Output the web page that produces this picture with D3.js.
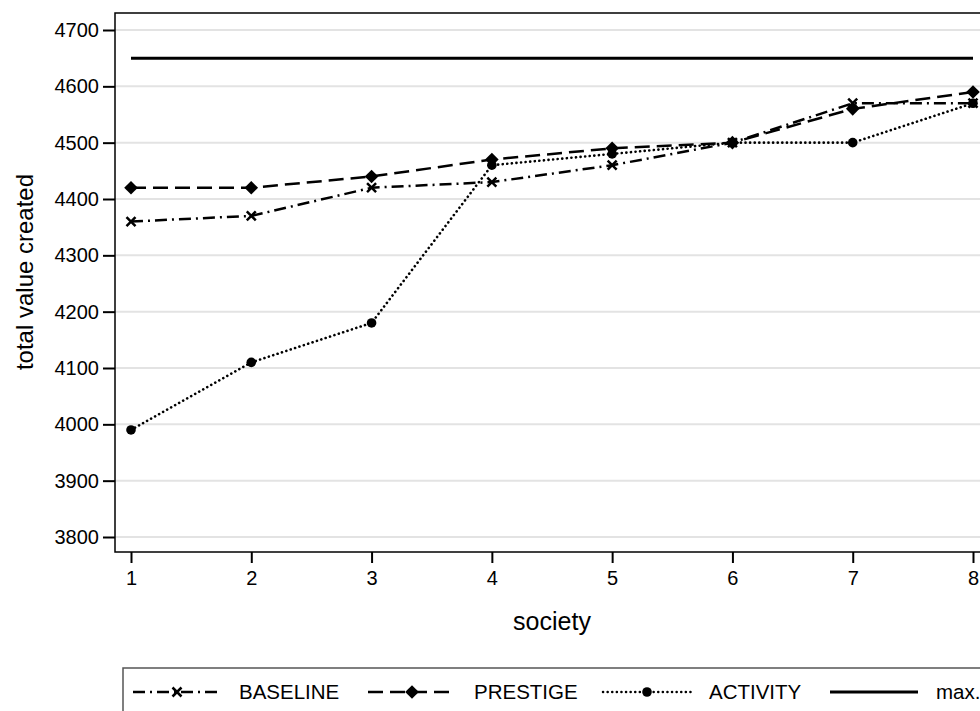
<!DOCTYPE html>
<html><head><meta charset="utf-8">
<script src="https://cdn.jsdelivr.net/npm/d3@7"></script>
<style>body{margin:0;background:#fff}svg{display:block}text{font-family:"Liberation Sans",Arial,Helvetica,sans-serif}</style>
</head><body>
<script>
const societies = [1,2,3,4,5,6,7,8];
const baseline = [4360,4370,4420,4430,4460,4500,4570,4570];
const prestige = [4420,4420,4440,4470,4490,4500,4560,4590];
const activity = [3990,4110,4180,4460,4480,4500,4500,4570];
const maxValue = 4650;
const yTicks = [3800,3900,4000,4100,4200,4300,4400,4500,4600,4700];
const xTicks = [1,2,3,4,5,6,7,8];
const seriesNames = ["BASELINE","PRESTIGE","ACTIVITY","max."];

const W=980,H=711;
const svg=d3.select("body").append("svg").attr("width",W).attr("height",H);
const L=115, T=13, B=552, R=995;
const x=d3.scaleLinear().domain([1,8]).range([131,973]);
const y=d3.scaleLinear().domain([3800,4700]).range([537,30]);

// grid
svg.append("g").selectAll("line").data(yTicks).join("line")
 .attr("x1",L).attr("x2",R).attr("y1",d=>y(d)).attr("y2",d=>y(d))
 .attr("stroke","#e3e3e3").attr("stroke-width",2);

// axes
const ya=svg.append("g").attr("transform",`translate(${L},0)`)
 .call(d3.axisLeft(y).tickValues(yTicks).tickSize(12).tickPadding(4).tickFormat(d3.format("d")));
ya.select(".domain").remove();
ya.selectAll("line").attr("stroke","#000").attr("stroke-width",2);
ya.selectAll("text").attr("font-size",20).attr("fill","#000").style("font-family","Liberation Sans, Arial, sans-serif");

const xa=svg.append("g").attr("transform",`translate(0,${B})`)
 .call(d3.axisBottom(x).tickValues(xTicks).tickSize(11).tickPadding(8).tickFormat(d3.format("d")));
xa.select(".domain").remove();
xa.selectAll("line").attr("stroke","#000").attr("stroke-width",2);
xa.selectAll("text").attr("font-size",20).attr("fill","#000").style("font-family","Liberation Sans, Arial, sans-serif");

// frame
svg.append("rect").attr("x",L).attr("y",T).attr("width",R-L).attr("height",B-T)
 .attr("fill","none").attr("stroke","#000").attr("stroke-width",1.5);

// axis titles
svg.append("text").attr("x",552).attr("y",630).attr("text-anchor","middle").attr("font-size",25).text("society");
svg.append("text").attr("transform","translate(33,272) rotate(-90)").attr("text-anchor","middle").attr("font-size",24).text("total value created");

// max line
svg.append("line").attr("x1",x(1)).attr("x2",x(8)).attr("y1",y(maxValue)).attr("y2",y(maxValue))
 .attr("stroke","#000").attr("stroke-width",3);

const line=d3.line().x((d,i)=>x(societies[i])).y(d=>y(d));
const styles={
 BASELINE:{dash:"12,5,2,5",cap:"butt"},
 PRESTIGE:{dash:"15,7",cap:"butt"},
 ACTIVITY:{dash:"0.1,4.5",cap:"round"},
};
const data={BASELINE:baseline,PRESTIGE:prestige,ACTIVITY:activity};

function marker(g,name,cx,cy){
 if(name==="BASELINE"){
  const s=4.5;
  g.append("path").attr("d",`M${cx-s},${cy-s}L${cx+s},${cy+s}M${cx-s},${cy+s}L${cx+s},${cy-s}`)
   .attr("stroke","#000").attr("stroke-width",2.5);
 } else if(name==="PRESTIGE"){
  const s=6.8;
  g.append("path").attr("d",`M${cx},${cy-s}L${cx+s},${cy}L${cx},${cy+s}L${cx-s},${cy}Z`).attr("fill","#000");
 } else if(name==="ACTIVITY"){
  g.append("circle").attr("cx",cx).attr("cy",cy).attr("r",4.8).attr("fill","#000");
 }
}

["ACTIVITY","BASELINE","PRESTIGE"].forEach(n=>{
 svg.append("path").datum(data[n]).attr("d",line).attr("fill","none").attr("stroke","#000")
  .attr("stroke-width",n==="ACTIVITY"?2.6:2.5).attr("stroke-dasharray",styles[n].dash).attr("stroke-linecap",styles[n].cap);
});
["ACTIVITY","BASELINE","PRESTIGE"].forEach(n=>{
 const g=svg.append("g");
 data[n].forEach((v,i)=>marker(g,n,x(societies[i]),y(v)));
});

// legend
svg.append("rect").attr("x",123).attr("y",668).attr("width",900).attr("height",60)
 .attr("fill","none").attr("stroke","#555").attr("stroke-width",1.5);
const lx=[133,368,603,830];
const ly=692;
seriesNames.forEach((n,i)=>{
 const x0=lx[i],x1=lx[i]+88;
 const g=svg.append("g");
 if(n==="max."){
  g.append("line").attr("x1",x0).attr("x2",x1).attr("y1",ly).attr("y2",ly).attr("stroke","#000").attr("stroke-width",3);
 } else {
  g.append("line").attr("x1",x0).attr("x2",x1).attr("y1",ly).attr("y2",ly).attr("stroke","#000")
   .attr("stroke-width",2.5).attr("stroke-dasharray",styles[n].dash).attr("stroke-linecap",styles[n].cap);
  marker(g,n,(x0+x1)/2,ly);
 }
 g.append("text").attr("x",x1+18).attr("y",699).attr("font-size",20.5).text(n);
});
</script>
</body></html>
